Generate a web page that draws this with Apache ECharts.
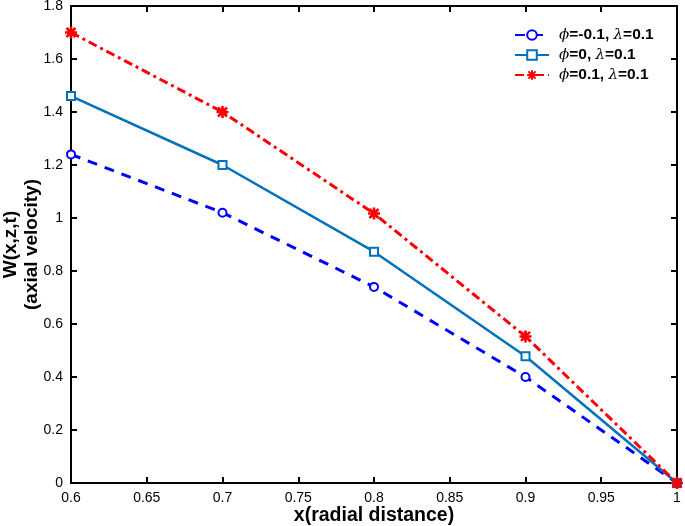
<!DOCTYPE html>
<html><head><meta charset="utf-8">
<script src="https://cdn.jsdelivr.net/npm/echarts@6/dist/echarts.min.js"></script>
<style>html,body{margin:0;padding:0;background:#fff}#c{width:685px;height:526px}</style>
</head><body><div id="c"></div>
<script>
const xValues = [0.6, 0.7, 0.8, 0.9, 1.0];
const seriesNames = ['phiNeg', 'phiZero', 'phiPos'];
const phiNeg = [1.24, 1.02, 0.74, 0.40, 0.0];
const phiZero = [1.46, 1.20, 0.873, 0.478, 0.0];
const phiPos = [1.70, 1.40, 1.017, 0.553, 0.0];
const xTicks = [0.6, 0.65, 0.7, 0.75, 0.8, 0.85, 0.9, 0.95, 1];
const yTicks = [0, 0.2, 0.4, 0.6, 0.8, 1, 1.2, 1.4, 1.6, 1.8];

const font = 'Liberation Sans, Arial, Helvetica, sans-serif';
const asterisk = 'path://M3.9,0 L6.1,0 L6.1,10 L3.9,10 Z M0,3.9 L10,3.9 L10,6.1 L0,6.1 Z M2,0.5 L9.5,8 L8,9.5 L0.5,2 Z M8,0.5 L9.5,2 L2,9.5 L0.5,8 Z';

function pairs(arr){ return xValues.map((x,i)=>[x, arr[i]]); }
function fmt(v){ return String(+v.toFixed(2)); }

const legendRich = {
  i: {fontStyle:'italic', fontFamily:'DejaVu Serif, serif', fontSize:15, color:'#000'},
  b: {fontWeight:'bold', fontFamily:font, fontSize:15.5, color:'#000'}
};
const names = {
  phiNeg: '{i|ϕ}{b|=-0.1, }{i|λ}{b|=0.1}',
  phiZero: '{i|ϕ}{b|=0, }{i|λ}{b|=0.1}',
  phiPos: '{i|ϕ}{b|=0.1, }{i|λ}{b|=0.1}'
};

const chart = echarts.init(document.getElementById('c'));
const axisCommon = {
  axisLine:{show:true, onZero:false, lineStyle:{color:'#000', width:2}},
  axisTick:{show:true, inside:true, length:6, lineStyle:{color:'#000', width:2}},
  splitLine:{show:false}
};
chart.setOption({
  animation:false,
  backgroundColor:'#fff',
  grid:{left:71, right:8, top:6, bottom:43, containLabel:false, outerBoundsMode:'none'},
  legend:{
    left:509, top:22, orient:'vertical', itemGap:4, itemWidth:34, itemHeight:12,
    data: seriesNames.map(n=>names[n]),
    textStyle:{rich:legendRich, padding:[0,0,0,5]}, formatter: n=>n,
    align:'left'
  },
  xAxis:[
    Object.assign({type:'value', min:0.6, max:1, interval:0.05,
      name:'x(radial distance)', nameLocation:'middle', nameGap:23, nameMoveOverlap:false,
      nameTextStyle:{fontFamily:font, fontWeight:'bold', fontSize:19.5, color:'#000'},
      axisLabel:{fontFamily:font, fontSize:14, color:'#000', margin:8, formatter:fmt}}, axisCommon),
    Object.assign({type:'value', min:0.6, max:1, interval:0.05, position:'top',
      axisLabel:{show:false}}, axisCommon)
  ],
  yAxis:[
    Object.assign({type:'value', min:0, max:1.8, interval:0.2,
      name:'W(x,z,t)\n(axial velocity)', nameLocation:'middle', nameGap:29, nameRotate:90, nameMoveOverlap:false,
      nameTextStyle:{fontFamily:font, fontWeight:'bold', fontSize:19, color:'#000', lineHeight:21},
      axisLabel:{fontFamily:font, fontSize:14, color:'#000', margin:8, formatter:fmt}}, axisCommon),
    Object.assign({type:'value', min:0, max:1.8, interval:0.2, position:'right',
      axisLabel:{show:false}}, axisCommon)
  ],
  series:[
    {name:names.phiNeg, type:'line', data:pairs(phiNeg), symbol:'emptyCircle', symbolSize:8,
      lineStyle:{color:'#0000ff', width:3, type:[10,8]},
      itemStyle:{color:'#0000ff', borderWidth:2.5}},
    {name:names.phiZero, type:'line', data:pairs(phiZero), symbol:'emptyRect', symbolSize:8,
      lineStyle:{color:'#0072bd', width:2.5, type:'solid'},
      itemStyle:{color:'#0072bd', borderWidth:3}},
    {name:names.phiPos, type:'line', data:pairs(phiPos), symbol:asterisk, symbolSize:12,
      lineStyle:{color:'#ff0000', width:3, type:[9,4,3,4]},
      itemStyle:{color:'#ff0000'}}
  ]
});
</script></body></html>
